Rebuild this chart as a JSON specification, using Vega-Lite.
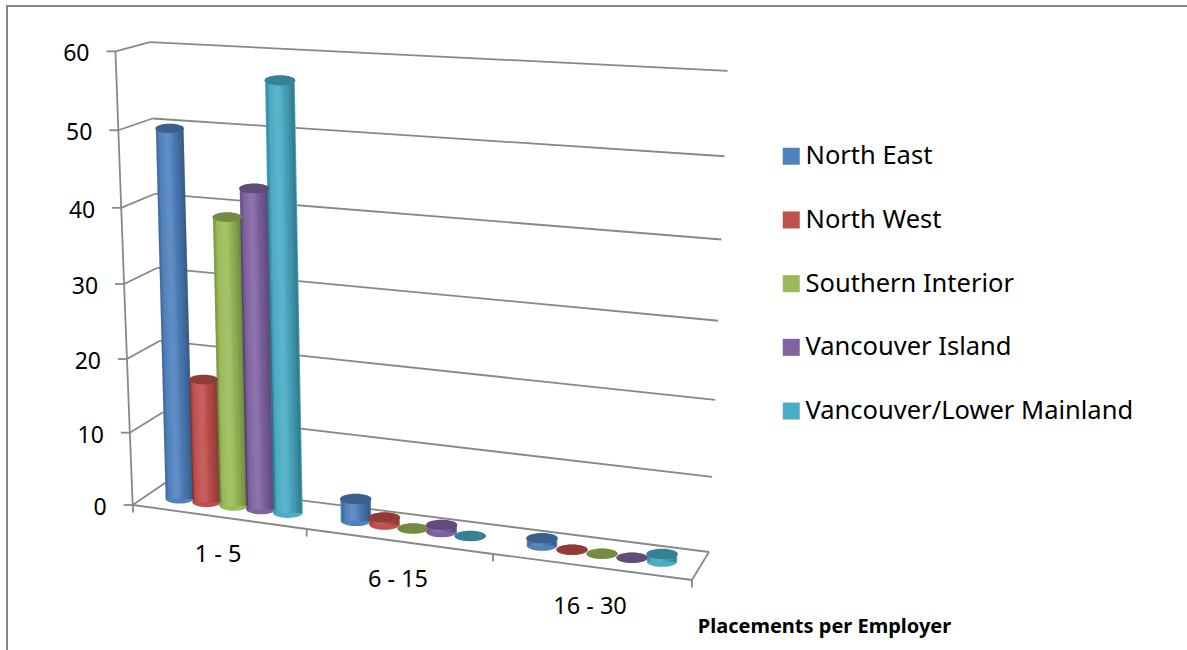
{
  "$schema": "https://vega.github.io/schema/vega-lite/v6.json",
  "width": 1200,
  "height": 660,
  "padding": {"left": 7, "top": 6, "right": 0, "bottom": 0},
  "autosize": {"type": "none"},
  "background": "#ffffff",
  "view": {"stroke": "#868686", "strokeWidth": 2, "fill": null},
  "config": {"font": "Noto Sans"},
  "datasets": {
    "placements": [
      {"bucket": "1 - 5", "region": "North East", "value": 50},
      {"bucket": "1 - 5", "region": "North West", "value": 17},
      {"bucket": "1 - 5", "region": "Southern Interior", "value": 39},
      {"bucket": "1 - 5", "region": "Vancouver Island", "value": 43},
      {"bucket": "1 - 5", "region": "Vancouver/Lower Mainland", "value": 57},
      {"bucket": "6 - 15", "region": "North East", "value": 3},
      {"bucket": "6 - 15", "region": "North West", "value": 1},
      {"bucket": "6 - 15", "region": "Southern Interior", "value": 0},
      {"bucket": "6 - 15", "region": "Vancouver Island", "value": 1},
      {"bucket": "6 - 15", "region": "Vancouver/Lower Mainland", "value": 0},
      {"bucket": "16 - 30", "region": "North East", "value": 1},
      {"bucket": "16 - 30", "region": "North West", "value": 0},
      {"bucket": "16 - 30", "region": "Southern Interior", "value": 0},
      {"bucket": "16 - 30", "region": "Vancouver Island", "value": 0},
      {"bucket": "16 - 30", "region": "Vancouver/Lower Mainland", "value": 1}
    ],
    "ticks": [{"value": 0}, {"value": 10}, {"value": 20}, {"value": 30}, {"value": 40}, {"value": 50}, {"value": 60}],
    "edges": [{"edge": 0}, {"edge": 1}, {"edge": 2}, {"edge": 3}],
    "buckets": [{"bucket": "1 - 5"}, {"bucket": "6 - 15"}, {"bucket": "16 - 30"}]
  },
  "data": {"name": "placements"},
  "transform": [
    {"calculate": "indexof(['1 - 5','6 - 15','16 - 30'], datum.bucket)", "as": "g"},
    {"calculate": "indexof(['North East','North West','Southern Interior','Vancouver Island','Vancouver/Lower Mainland'], datum.region)", "as": "s"},
    {"calculate": "179.5+171.75*datum.g+4.75*datum.g*datum.g+datum.s*(27.1+1.45*datum.g)", "as": "bx"},
    {"calculate": "499+20.65*datum.g+1.35*datum.g*datum.g+datum.s*(3.5+0.25*datum.g)", "as": "by"},
    {"calculate": "(7.1*datum.value+0.0062*datum.value*datum.value)*(1+(datum.bx-180)*0.00017)", "as": "h"},
    {"calculate": "datum.bx+datum.h*(-0.0398+0.000074*datum.bx)", "as": "tx"},
    {"calculate": "datum.by-datum.h", "as": "ty"},
    {"calculate": "min(30.5,27.5+(datum.bx-180)*0.02)", "as": "w"},
    {"calculate": "datum.w*datum.w", "as": "disc"},
    {"calculate": "(datum.w+1)*(datum.w+1)", "as": "cap"}
  ],
  "layer": [
    {
      "data": {"name": "ticks"},
      "transform": [
        {"calculate": "132.7-0.287*datum.value", "as": "fx"},
        {"calculate": "505-7.17*datum.value-0.0065*datum.value*datum.value", "as": "fy"},
        {"calculate": "datum.fx-9", "as": "sx"}
      ],
      "mark": {"type": "rule", "stroke": "#888888", "strokeWidth": 1.8},
      "encoding": {
        "x": {"field": "sx", "type": "quantitative", "scale": {"domain": [7, 1207], "nice": false, "zero": false},
          "axis": {"domain": false, "ticks": false, "labels": false, "grid": false, "title": "Placements per Employer", "orient": "bottom",
            "titleFont": "Noto Sans", "titleFontSize": 20, "titleFontWeight": "bold", "titleColor": "#000000", "titleX": 817, "titleY": -50, "titleAlign": "center"}},
        "y": {"field": "fy", "type": "quantitative", "scale": {"domain": [666, 6], "nice": false, "zero": false}, "axis": null},
        "x2": {"field": "fx"}
      }
    },
    {
      "data": {"name": "ticks"},
      "transform": [
        {"calculate": "132.7-0.287*datum.value", "as": "fx"},
        {"calculate": "505-7.17*datum.value-0.0065*datum.value*datum.value", "as": "fy"},
        {"calculate": "165-0.25*datum.value", "as": "lx"},
        {"calculate": "483-7*datum.value-0.0058*datum.value*datum.value", "as": "ly"}
      ],
      "mark": {"type": "rule", "stroke": "#888888", "strokeWidth": 1.8},
      "encoding": {
        "x": {"field": "fx", "type": "quantitative", "scale": {"domain": [7, 1207], "nice": false, "zero": false}},
        "y": {"field": "fy", "type": "quantitative", "scale": {"domain": [666, 6], "nice": false, "zero": false}, "axis": null},
        "x2": {"field": "lx"},
        "y2": {"field": "ly"}
      }
    },
    {
      "data": {"name": "ticks"},
      "transform": [
        {"calculate": "165-0.25*datum.value", "as": "lx"},
        {"calculate": "483-7*datum.value-0.0058*datum.value*datum.value", "as": "ly"},
        {"calculate": "709+0.31*datum.value", "as": "rx"},
        {"calculate": "552-7.4*datum.value-0.0103*datum.value*datum.value", "as": "ry"}
      ],
      "mark": {"type": "rule", "stroke": "#888888", "strokeWidth": 1.8},
      "encoding": {
        "x": {"field": "lx", "type": "quantitative", "scale": {"domain": [7, 1207], "nice": false, "zero": false}},
        "y": {"field": "ly", "type": "quantitative", "scale": {"domain": [666, 6], "nice": false, "zero": false}, "axis": null},
        "x2": {"field": "rx"},
        "y2": {"field": "ry"}
      }
    },
    {
      "data": {"name": "ticks"},
      "transform": [
        {"calculate": "132.7-0.287*datum.value", "as": "fx"},
        {"calculate": "505-7.17*datum.value-0.0065*datum.value*datum.value", "as": "fy"}
      ],
      "mark": {"type": "line", "stroke": "#888888", "strokeWidth": 1.8},
      "encoding": {
        "x": {"field": "fx", "type": "quantitative", "scale": {"domain": [7, 1207], "nice": false, "zero": false}},
        "y": {"field": "fy", "type": "quantitative", "scale": {"domain": [666, 6], "nice": false, "zero": false}, "axis": null},
        "order": {"field": "value", "type": "quantitative"}
      }
    },
    {
      "data": {"name": "edges"},
      "transform": [
        {"calculate": "133+167.4*datum.edge+6.3*datum.edge*datum.edge", "as": "ex"},
        {"calculate": "505+23.5*datum.edge+0.5*datum.edge*datum.edge", "as": "ey"}
      ],
      "mark": {"type": "line", "stroke": "#888888", "strokeWidth": 1.8},
      "encoding": {
        "x": {"field": "ex", "type": "quantitative", "scale": {"domain": [7, 1207], "nice": false, "zero": false}},
        "y": {"field": "ey", "type": "quantitative", "scale": {"domain": [666, 6], "nice": false, "zero": false}, "axis": null},
        "order": {"field": "edge", "type": "quantitative"}
      }
    },
    {
      "data": {"name": "edges"},
      "transform": [
        {"calculate": "133+167.4*datum.edge+6.3*datum.edge*datum.edge", "as": "ex"},
        {"calculate": "505+23.5*datum.edge+0.5*datum.edge*datum.edge", "as": "ey"},
        {"calculate": "datum.ey+7.5", "as": "ey2"}
      ],
      "mark": {"type": "rule", "stroke": "#888888", "strokeWidth": 1.8},
      "encoding": {
        "x": {"field": "ex", "type": "quantitative", "scale": {"domain": [7, 1207], "nice": false, "zero": false}},
        "y": {"field": "ey", "type": "quantitative", "scale": {"domain": [666, 6], "nice": false, "zero": false}, "axis": null},
        "y2": {"field": "ey2"}
      }
    },
    {
      "data": {"name": "edges"},
      "transform": [
        {"filter": "datum.edge == 3"},
        {"calculate": "133+167.4*datum.edge+6.3*datum.edge*datum.edge", "as": "ex"},
        {"calculate": "505+23.5*datum.edge+0.5*datum.edge*datum.edge", "as": "ey"},
        {"calculate": "datum.ex+17.1", "as": "ex2"},
        {"calculate": "datum.ey-28", "as": "ey2"}
      ],
      "mark": {"type": "rule", "stroke": "#888888", "strokeWidth": 1.8},
      "encoding": {
        "x": {"field": "ex", "type": "quantitative", "scale": {"domain": [7, 1207], "nice": false, "zero": false}},
        "y": {"field": "ey", "type": "quantitative", "scale": {"domain": [666, 6], "nice": false, "zero": false}, "axis": null},
        "x2": {"field": "ex2"},
        "y2": {"field": "ey2"}
      }
    },
    {
      "data": {"name": "ticks"},
      "transform": [
        {"calculate": "132.7-0.287*datum.value-26", "as": "lx"},
        {"calculate": "508-7.17*datum.value-0.0065*datum.value*datum.value", "as": "ly"}
      ],
      "mark": {"type": "text", "font": "Noto Sans", "fontSize": 23, "align": "right", "baseline": "middle", "fill": "#000000"},
      "encoding": {
        "x": {"field": "lx", "type": "quantitative", "scale": {"domain": [7, 1207], "nice": false, "zero": false}},
        "y": {"field": "ly", "type": "quantitative", "scale": {"domain": [666, 6], "nice": false, "zero": false}, "axis": null},
        "text": {"field": "value", "type": "quantitative"}
      }
    },
    {
      "data": {"name": "buckets"},
      "transform": [
        {"calculate": "indexof(['1 - 5','6 - 15','16 - 30'], datum.bucket)", "as": "g"},
        {"calculate": "218+174*datum.g+6*datum.g*datum.g", "as": "cx"},
        {"calculate": "555+24*datum.g+datum.g*datum.g", "as": "cy"}
      ],
      "mark": {"type": "text", "font": "Noto Sans", "fontSize": 23.5, "align": "center", "baseline": "middle", "fill": "#000000"},
      "encoding": {
        "x": {"field": "cx", "type": "quantitative", "scale": {"domain": [7, 1207], "nice": false, "zero": false}},
        "y": {"field": "cy", "type": "quantitative", "scale": {"domain": [666, 6], "nice": false, "zero": false}, "axis": null},
        "text": {"field": "bucket", "type": "nominal"}
      }
    },
    {
      "mark": {"type": "point", "filled": true, "opacity": 1, "shape": "M-1 0A1 .33 0 1 1 1 0A1 .33 0 1 1 -1 0Z"},
      "encoding": {
        "x": {"field": "bx", "type": "quantitative", "scale": {"domain": [7, 1207], "nice": false, "zero": false}},
        "y": {"field": "by", "type": "quantitative", "scale": {"domain": [666, 6], "nice": false, "zero": false}, "axis": null},
        "size": {"field": "disc", "type": "quantitative", "scale": null},
        "fill": {
          "field": "region", "type": "nominal",
          "scale": {"domain": ["North East", "North West", "Southern Interior", "Vancouver Island", "Vancouver/Lower Mainland"],
            "range": ["#4F81BD", "#C0504D", "#9BBB59", "#8064A2", "#4BACC6"]},
          "legend": {"orient": "none", "legendX": 771.5, "legendY": 137.5, "title": null, "symbolType": "square", "symbolSize": 289, "symbolStrokeWidth": 0,
            "labelFont": "Noto Sans", "labelFontSize": 25.5, "labelColor": "#000000", "labelOffset": 1.5, "labelLimit": 500, "rowPadding": 36.7, "symbolOpacity": 1}
        }
      }
    },
    {
      "mark": {"type": "rule"},
      "encoding": {
        "x": {"field": "bx", "type": "quantitative", "scale": {"domain": [7, 1207], "nice": false, "zero": false}},
        "y": {"field": "by", "type": "quantitative", "scale": {"domain": [666, 6], "nice": false, "zero": false}, "axis": null},
        "x2": {"field": "tx"},
        "y2": {"field": "ty"},
        "size": {"field": "w", "type": "quantitative", "scale": null},
        "stroke": {
          "field": "region", "type": "nominal",
          "scale": {"domain": ["North East", "North West", "Southern Interior", "Vancouver Island", "Vancouver/Lower Mainland"],
            "range": ["#4F81BD", "#C0504D", "#9BBB59", "#8064A2", "#4BACC6"]},
          "legend": null
        }
      }
    },
    {"mark": {"type": "rule", "stroke": "#ffffff", "opacity": 0.035, "strokeWidth": 12, "xOffset": -3, "x2Offset": -3},
      "encoding": {"x": {"field": "bx", "type": "quantitative", "scale": {"domain": [7, 1207], "nice": false, "zero": false}}, "y": {"field": "by", "type": "quantitative", "scale": {"domain": [666, 6], "nice": false, "zero": false}, "axis": null}, "x2": {"field": "tx"}, "y2": {"field": "ty"}}},
    {"mark": {"type": "rule", "stroke": "#ffffff", "opacity": 0.035, "strokeWidth": 8, "xOffset": -3, "x2Offset": -3},
      "encoding": {"x": {"field": "bx", "type": "quantitative", "scale": {"domain": [7, 1207], "nice": false, "zero": false}}, "y": {"field": "by", "type": "quantitative", "scale": {"domain": [666, 6], "nice": false, "zero": false}, "axis": null}, "x2": {"field": "tx"}, "y2": {"field": "ty"}}},
    {"mark": {"type": "rule", "stroke": "#ffffff", "opacity": 0.035, "strokeWidth": 4, "xOffset": -3, "x2Offset": -3},
      "encoding": {"x": {"field": "bx", "type": "quantitative", "scale": {"domain": [7, 1207], "nice": false, "zero": false}}, "y": {"field": "by", "type": "quantitative", "scale": {"domain": [666, 6], "nice": false, "zero": false}, "axis": null}, "x2": {"field": "tx"}, "y2": {"field": "ty"}}},
    {"mark": {"type": "rule", "stroke": "#000000", "opacity": 0.09, "strokeWidth": 3, "xOffset": -12.5, "x2Offset": -12.5},
      "encoding": {"x": {"field": "bx", "type": "quantitative", "scale": {"domain": [7, 1207], "nice": false, "zero": false}}, "y": {"field": "by", "type": "quantitative", "scale": {"domain": [666, 6], "nice": false, "zero": false}, "axis": null}, "x2": {"field": "tx"}, "y2": {"field": "ty"}}},
    {"mark": {"type": "rule", "stroke": "#000000", "opacity": 0.09, "strokeWidth": 1.5, "xOffset": -13.2, "x2Offset": -13.2},
      "encoding": {"x": {"field": "bx", "type": "quantitative", "scale": {"domain": [7, 1207], "nice": false, "zero": false}}, "y": {"field": "by", "type": "quantitative", "scale": {"domain": [666, 6], "nice": false, "zero": false}, "axis": null}, "x2": {"field": "tx"}, "y2": {"field": "ty"}}},
    {"mark": {"type": "rule", "stroke": "#000000", "opacity": 0.05, "strokeWidth": 12, "xOffset": 8, "x2Offset": 8},
      "encoding": {"x": {"field": "bx", "type": "quantitative", "scale": {"domain": [7, 1207], "nice": false, "zero": false}}, "y": {"field": "by", "type": "quantitative", "scale": {"domain": [666, 6], "nice": false, "zero": false}, "axis": null}, "x2": {"field": "tx"}, "y2": {"field": "ty"}}},
    {"mark": {"type": "rule", "stroke": "#000000", "opacity": 0.06, "strokeWidth": 9, "xOffset": 9.5, "x2Offset": 9.5},
      "encoding": {"x": {"field": "bx", "type": "quantitative", "scale": {"domain": [7, 1207], "nice": false, "zero": false}}, "y": {"field": "by", "type": "quantitative", "scale": {"domain": [666, 6], "nice": false, "zero": false}, "axis": null}, "x2": {"field": "tx"}, "y2": {"field": "ty"}}},
    {"mark": {"type": "rule", "stroke": "#000000", "opacity": 0.08, "strokeWidth": 6, "xOffset": 11, "x2Offset": 11},
      "encoding": {"x": {"field": "bx", "type": "quantitative", "scale": {"domain": [7, 1207], "nice": false, "zero": false}}, "y": {"field": "by", "type": "quantitative", "scale": {"domain": [666, 6], "nice": false, "zero": false}, "axis": null}, "x2": {"field": "tx"}, "y2": {"field": "ty"}}},
    {"mark": {"type": "rule", "stroke": "#000000", "opacity": 0.1, "strokeWidth": 3, "xOffset": 12.5, "x2Offset": 12.5},
      "encoding": {"x": {"field": "bx", "type": "quantitative", "scale": {"domain": [7, 1207], "nice": false, "zero": false}}, "y": {"field": "by", "type": "quantitative", "scale": {"domain": [666, 6], "nice": false, "zero": false}, "axis": null}, "x2": {"field": "tx"}, "y2": {"field": "ty"}}},
    {
      "mark": {"type": "point", "filled": true, "opacity": 1, "shape": "M-1 0A1 .33 0 1 1 1 0A1 .33 0 1 1 -1 0Z"},
      "encoding": {
        "x": {"field": "tx", "type": "quantitative", "scale": {"domain": [7, 1207], "nice": false, "zero": false}},
        "y": {"field": "ty", "type": "quantitative", "scale": {"domain": [666, 6], "nice": false, "zero": false}, "axis": null},
        "size": {"field": "cap", "type": "quantitative", "scale": null},
        "fill": {"field": "region", "type": "nominal", "scale": {"domain": ["North East", "North West", "Southern Interior", "Vancouver Island", "Vancouver/Lower Mainland"],
            "range": ["#4F81BD", "#C0504D", "#9BBB59", "#8064A2", "#4BACC6"]},
          "legend": {"orient": "none", "legendX": 771.5, "legendY": 137.5, "title": null, "symbolType": "square", "symbolSize": 289, "symbolStrokeWidth": 0,
            "labelFont": "Noto Sans", "labelFontSize": 25.5, "labelColor": "#000000", "labelOffset": 1.5, "labelLimit": 500, "rowPadding": 36.7, "symbolOpacity": 1}}
      }
    },
    {
      "mark": {"type": "point", "filled": true, "fill": "#000000", "opacity": 0.25, "shape": "M-1 0A1 .33 0 1 1 1 0A1 .33 0 1 1 -1 0Z"},
      "encoding": {
        "x": {"field": "tx", "type": "quantitative", "scale": {"domain": [7, 1207], "nice": false, "zero": false}},
        "y": {"field": "ty", "type": "quantitative", "scale": {"domain": [666, 6], "nice": false, "zero": false}, "axis": null},
        "size": {"field": "cap", "type": "quantitative", "scale": null}
      }
    }
  ]
}
